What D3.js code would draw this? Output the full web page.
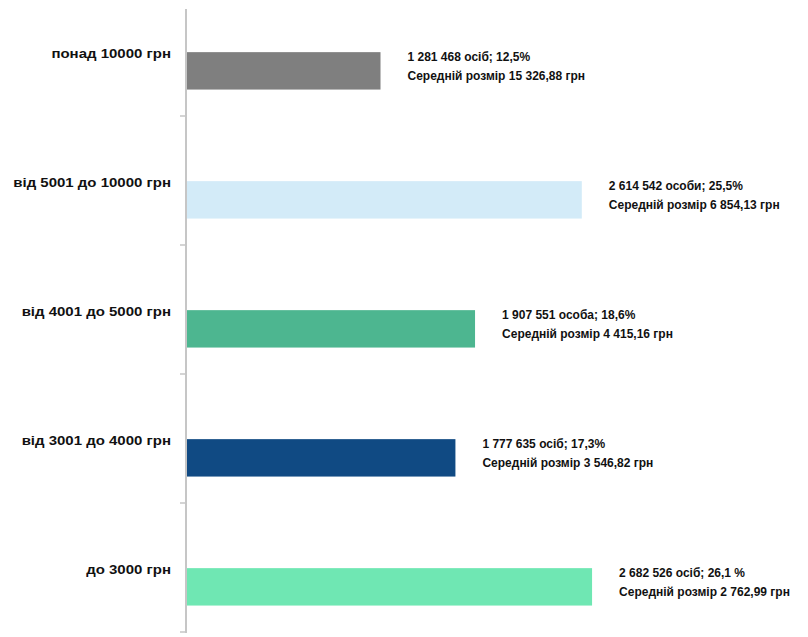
<!DOCTYPE html>
<html><head><meta charset="utf-8">
<script src="https://cdn.jsdelivr.net/npm/d3@7/dist/d3.min.js"></script>
<style>
html,body{margin:0;padding:0;background:#fff;}
text{font-family:"Liberation Sans","Arial",sans-serif;font-weight:bold;}
</style></head>
<body>
<svg id="chart" width="808" height="637"></svg>
<script>
const categories = ["понад 10000 грн","від 5001 до 10000 грн","від 4001 до 5000 грн","від 3001 до 4000 грн","до 3000 грн"];
const counts = [1281468, 2614542, 1907551, 1777635, 2682526];
const countLabels = ["1 281 468 осіб;  12,5%","2 614 542 особи; 25,5%","1 907 551 особа; 18,6%","1 777 635 осіб; 17,3%","2 682 526 осіб; 26,1 %"];
const avgLabels = ["Середній розмір 15 326,88 грн","Середній розмір 6 854,13 грн","Середній розмір 4 415,16 грн","Середній розмір 3 546,82 грн","Середній розмір 2 762,99 грн"];
const colors = ["#7f7f7f","#d3ebf8","#4db690","#104a83","#6fe7b3"];

const svg = d3.select("#chart");
const axisX = 186;
const x = d3.scaleLinear().domain([0, 3000000]).range([axisX+1, axisX+1+453]);
const y = d3.scaleBand().domain(categories).range([-13, 632]).paddingInner(0).paddingOuter(0);
const bw = y.bandwidth();
const barOff = bw*0.505, barH = bw*0.29;

svg.append("line").attr("x1",axisX).attr("x2",axisX).attr("y1",9).attr("y2",633)
  .attr("stroke","#c6c6c6").attr("stroke-width",2);
const tickYs = categories.map(c => y(c) + bw);
svg.selectAll("line.tick").data(tickYs).enter().append("line").attr("class","tick")
  .attr("x1",axisX-6).attr("x2",axisX).attr("y1",d=>d).attr("y2",d=>d)
  .attr("stroke","#c6c6c6").attr("stroke-width",1.5);

const data = categories.map((c,i)=>({c, v:counts[i], l1:countLabels[i], l2:avgLabels[i], col:colors[i]}));

svg.selectAll("rect.bar").data(data).enter().append("rect").attr("class","bar")
  .attr("x", x(0)).attr("y", d=>y(d.c)+barOff)
  .attr("width", d=>x(d.v)-x(0)).attr("height", barH)
  .attr("fill", d=>d.col);

svg.selectAll("text.cat").data(data).enter().append("text").attr("class","cat")
  .attr("text-anchor","end").attr("font-size",12.5).attr("fill","#111")
  .attr("transform", d=>`translate(171,${y(d.c)+barOff+6}) scale(1.2,1)`)
  .text(d=>d.c);

const lbl = svg.selectAll("g.lbl").data(data).enter().append("g").attr("class","lbl")
  .attr("transform", d=>`translate(${x(d.v)+27},${y(d.c)+barOff})`);
lbl.append("text").attr("y", 9).attr("font-size",12.5).attr("fill","#111")
  .attr("transform","scale(0.96,1)").text(d=>d.l1);
lbl.append("text").attr("y", 28).attr("font-size",12.5).attr("fill","#111")
  .attr("transform","scale(0.96,1)").text(d=>d.l2);
</script>
</body></html>
